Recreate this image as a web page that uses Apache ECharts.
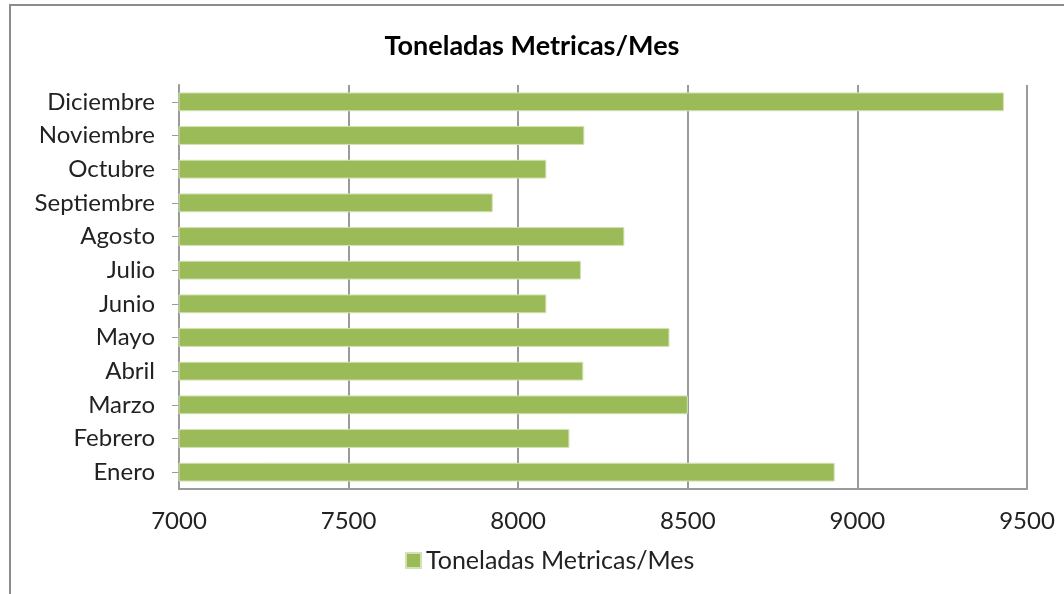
<!DOCTYPE html>
<html>
<head>
<meta charset="utf-8">
<script src="https://cdn.jsdelivr.net/npm/echarts@6/dist/echarts.min.js"></script>
<style>
  html, body { margin: 0; padding: 0; background: #fff; overflow: hidden; }
  #frame {
    position: absolute; left: 9px; top: 4px; width: 1100px; height: 640px;
    border: 2px solid #8c8c8c; box-sizing: border-box;
  }
  #chart { position: absolute; left: 0; top: 0; width: 1064px; height: 594px; }
</style>
</head>
<body>
<div id="frame"></div>
<div id="chart"></div>
<script>
// meses, de abajo hacia arriba
var meses = ['Enero', 'Febrero', 'Marzo', 'Abril', 'Mayo', 'Junio', 'Julio', 'Agosto', 'Septiembre', 'Octubre', 'Noviembre', 'Diciembre']
var toneladas = [8933, 8151, 8500, 8192, 8446, 8083, 8185, 8313, 7925, 8083, 8195, 9432]
var ejeX = [7000, 7500, 8000, 8500, 9000, 9500]
var titulo = 'Toneladas Metricas/Mes'

var chart = echarts.init(document.getElementById('chart'))
var fuente = 'Lato, "Open Sans", sans-serif'

chart.setOption({
  backgroundColor: 'transparent',
  animation: false,
  textStyle: { fontFamily: fuente },
  title: {
    text: titulo,
    left: 'center',
    top: 28,
    textStyle: { fontSize: 27, fontWeight: 'bold', color: '#000', fontFamily: fuente }
  },
  legend: {
    bottom: 16,
    left: 400,
    itemWidth: 15,
    itemHeight: 15,
    itemGap: 7,
    textStyle: { fontSize: 25, color: '#222', fontFamily: fuente },
    data: [{ name: titulo, icon: 'rect' }]
  },
  grid: {
    left: 179,
    right: 37,
    top: 85,
    bottom: 105
  },
  xAxis: {
    type: 'value',
    min: ejeX[0],
    max: ejeX[ejeX.length - 1],
    interval: 500,
    axisLine: { show: true, lineStyle: { color: '#9a9a9a', width: 2 } },
    axisTick: { show: false },
    splitLine: { show: true, lineStyle: { color: '#9a9a9a', width: 2 } },
    axisLabel: { fontSize: 24, color: '#222', margin: 20, fontFamily: fuente, formatter: function (v) { return String(v) } }
  },
  yAxis: {
    type: 'category',
    data: meses,
    axisLine: { show: true, lineStyle: { color: '#9a9a9a', width: 2 } },
    axisTick: { show: true, alignWithLabel: true, length: 7, lineStyle: { color: '#9a9a9a' } },
    axisLabel: { fontSize: 24, color: '#222', margin: 24, fontFamily: fuente }
  },
  series: [{
    name: titulo,
    type: 'bar',
    data: toneladas,
    barCategoryGap: '44%',
    itemStyle: { color: '#9bbb59', borderColor: '#d2e2b4', borderWidth: 1 }
  }]
})
</script>
</body>
</html>
